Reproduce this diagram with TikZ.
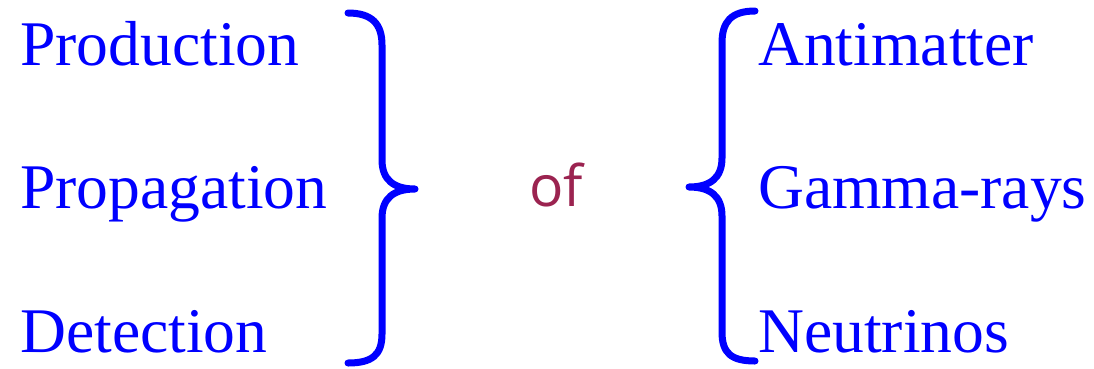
\documentclass[tikz,border=0pt]{standalone}
\usepackage{fontspec}
\setmainfont{Liberation Serif}
\newfontfamily\offont{Open Sans}
\definecolor{ofred}{RGB}{155,35,80}
\begin{document}
\begin{tikzpicture}[x=1pt,y=-1pt,
  word/.style={anchor=base west,inner sep=0pt,text=blue,font=\fontsize{63.6}{70}\selectfont},
  brace/.style={draw=blue,line width=7pt,line cap=round,line join=round}]
\useasboundingbox (0,0) rectangle (1094,368);
\node[word] (prod) at (20,65) {Production};
\node[word] (prop) at (20,208) {Propagation};
\node[word] (det) at (20,352) {Detection};
\node[word] (anti) at (758,65) {Antimatter};
\node[word] (gam) at (758,208) {Gamma-rays};
\node[word] (neu) at (758,352) {Neutrinos};
\node[anchor=base,inner sep=0pt,text=ofred,font=\offont\fontsize{57}{60}\selectfont] (of) at (556,206) {of};
\draw[brace] (348,13) .. controls (372,13) and (382,24) .. (382,45) -- (382,160)
  .. controls (382,180) and (394,189) .. (415,189)
  .. controls (394,189) and (382,198) .. (382,218) -- (382,334)
  .. controls (382,355) and (372,363) .. (348,363);
\draw[brace] (755,11) .. controls (731,11) and (722,22) .. (722,43) -- (722,158)
  .. controls (722,178) and (710,187) .. (689,187)
  .. controls (710,187) and (722,196) .. (722,216) -- (722,332)
  .. controls (722,353) and (731,361) .. (755,361);
\end{tikzpicture}
\end{document}
